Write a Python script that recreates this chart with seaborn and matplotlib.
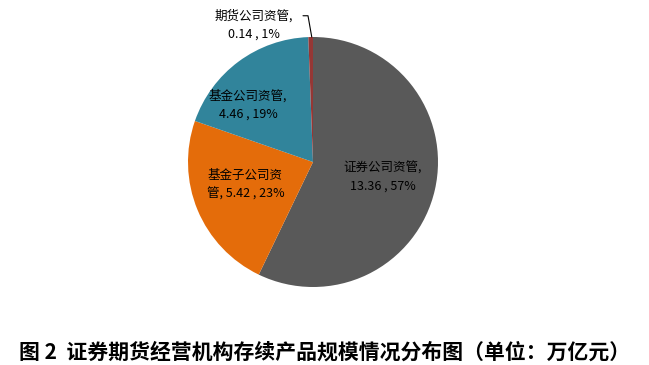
import matplotlib
matplotlib.use("Agg")
import matplotlib.pyplot as plt
import seaborn as sns

sns.set_theme(style="white")
plt.rcParams['font.family'] = ['Noto Sans CJK SC', 'DejaVu Sans']

categories = ["证券公司资管", "基金子公司资管", "基金公司资管", "期货公司资管"]
values = [13.36, 5.42, 4.46, 0.14]
percents = ["57%", "23%", "19%", "1%"]
colors = ["#595959", "#E46C0A", "#31849B", "#953735"]
title = "图 2  证券期货经营机构存续产品规模情况分布图（单位：万亿元）"

W, H = 649, 365
fig = plt.figure(figsize=(W / 100, H / 100), dpi=100)
cx, cy, r = 313, 162, 125
ax = fig.add_axes([(cx - r) / W, (H - cy - r) / H, 2 * r / W, 2 * r / H])
ax.pie(values, colors=colors, startangle=90, counterclock=False, radius=1.0,
       wedgeprops=dict(linewidth=0))
ax.set_xlim(-1, 1)
ax.set_ylim(-1, 1)
ax.axis("off")

lab = [f"{c},\n{v:.2f} , {p}" for c, v, p in zip(categories, values, percents)]
lab[1] = f"基金子公司资\n管, {values[1]:.2f} , {percents[1]}"
pos = [(0.56, -0.12), (-0.54, -0.18), (-0.52, 0.46), (-0.47, 1.10)]
for t, (x, y) in zip(lab, pos):
    ax.text(x, y, t, ha="center", va="center", fontsize=9, color="black",
            linespacing=1.5, clip_on=False)

# leader line for small slice
ax.plot([-0.08, -0.04, -0.01], [1.17, 1.17, 1.0], color="black", lw=0.8, clip_on=False)

fig.text(0.5, 1 - 352 / H, title, ha="center", va="center", fontsize=15,
         fontweight="bold", color="black")
fig.savefig("out.png", dpi=100)
